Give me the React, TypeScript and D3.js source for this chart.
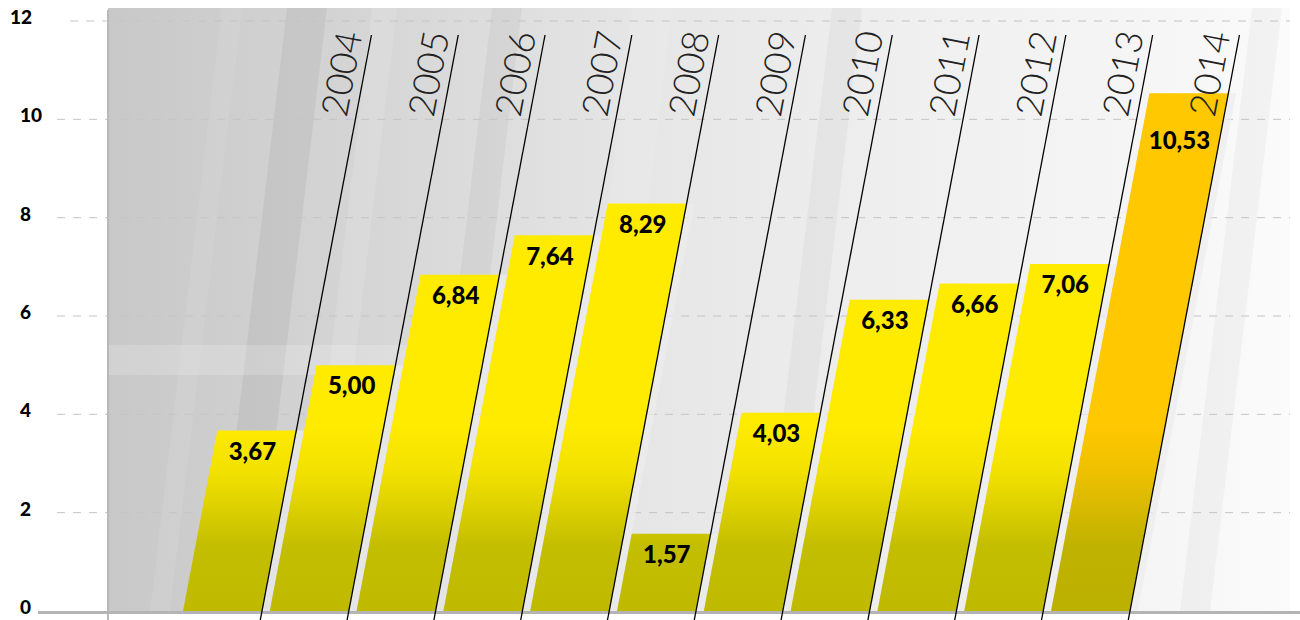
import React from "react";
import * as d3 from "d3";

const years = ["2004", "2005", "2006", "2007", "2008", "2009", "2010", "2011", "2012", "2013", "2014"];
const values = [3.67, 5.0, 6.84, 7.64, 8.29, 1.57, 4.03, 6.33, 6.66, 7.06, 10.53];
const highlightYear = "2014";
const yTicks = [0, 2, 4, 6, 8, 10, 12];

const W = 1300;
const H = 620;
const SLANT = 0.19;

const locale = d3.formatLocale({ decimal: ",", thousands: ".", grouping: [3], currency: ["", ""] });
const fmt = locale.format(".2f");

export default function App() {
  const y = d3.scaleLinear().domain([0, 12]).range([611, 21]);
  const x = d3.scaleBand<string>().domain(years).range([183, 1130]).paddingInner(0.09).paddingOuter(0);
  const w = x.bandwidth();
  const step = x.step();
  const base = y(0);
  const lineTop = 35;
  const lineBottom = 620;

  const para = (x0: number, width: number, yt: number) => {
    const s = (base - yt) * SLANT;
    return `M${x0},${base} L${x0 + width},${base} L${x0 + width + s},${yt} L${x0 + s},${yt} Z`;
  };

  // background texture streaks (decorative)
  const streaks = [
    { x0: 215, w0: 40, o: 0.05, c: "#000" },
    { x0: 300, w0: 25, o: 0.12, c: "#fff" },
    { x0: 150, w0: 20, o: 0.08, c: "#fff" },
    { x0: 420, w0: 30, o: 0.04, c: "#000" },
    { x0: 560, w0: 40, o: 0.1, c: "#fff" },
    { x0: 760, w0: 30, o: 0.03, c: "#000" },
    { x0: 1180, w0: 30, o: 0.03, c: "#000" },
  ];

  return (
    <div style={{ position: "fixed", left: 0, top: 0 }}>
      <svg width={W} height={H} style={{ display: "block", background: "#fff" }}>
        <defs>
          <linearGradient id="bg" x1="0" y1="0" x2="1" y2="0">
            <stop offset="0" stopColor="#c8c8c8" />
            <stop offset="0.2" stopColor="#d4d4d4" />
            <stop offset="0.45" stopColor="#e6e6e6" />
            <stop offset="0.7" stopColor="#f0f0f0" />
            <stop offset="0.9" stopColor="#f6f6f6" />
            <stop offset="1" stopColor="#fbfbfb" />
          </linearGradient>
          <linearGradient id="gYellow" gradientUnits="userSpaceOnUse" x1="0" y1="425" x2="0" y2={base}>
            <stop offset="0" stopColor="#ffeb00" />
            <stop offset="0.25" stopColor="#f2e100" />
            <stop offset="0.48" stopColor="#d8cd00" />
            <stop offset="0.65" stopColor="#c4be00" />
            <stop offset="1" stopColor="#bfba00" />
          </linearGradient>
          <linearGradient id="gOrange" gradientUnits="userSpaceOnUse" x1="0" y1="425" x2="0" y2={base}>
            <stop offset="0" stopColor="#ffc800" />
            <stop offset="0.25" stopColor="#eec000" />
            <stop offset="0.48" stopColor="#d4b800" />
            <stop offset="0.65" stopColor="#c0b200" />
            <stop offset="1" stopColor="#bcb000" />
          </linearGradient>
          <clipPath id="plotClip">
            <rect x={108} y={8} width={1182} height={base - 8} />
          </clipPath>
        </defs>

        {/* background */}
        <rect x={108} y={8} width={1182} height={base - 8} fill="url(#bg)" />
        <g clipPath="url(#plotClip)">
          {streaks.map((s, i) => (
            <path
              key={i}
              d={`M${s.x0},${base} L${s.x0 + s.w0},${base} L${s.x0 + s.w0 + 600 * 0.12},8 L${s.x0 + 600 * 0.12},8 Z`}
              fill={s.c}
              opacity={s.o}
            />
          ))}
          <rect x={108} y={345} width={360} height={30} fill="#fff" opacity={0.18} />
        </g>

        {/* gridlines */}
        {yTicks.filter((t) => t > 0).map((t) => (
          <line
            key={t}
            x1={t === 12 ? 70 : 57}
            x2={1290}
            y1={y(t)}
            y2={y(t)}
            stroke="#c4c4c4"
            strokeWidth={1}
            strokeDasharray="8,8"
          />
        ))}

        {/* y axis */}
        <line x1={108} x2={108} y1={10} y2={620} stroke="#b8b8b8" strokeWidth={2} />
        {yTicks.map((t) => (
          <text
            key={t}
            x={t === 12 ? 10 : 20}
            y={y(t) - 2}
            dominantBaseline="middle"
            fontFamily="Lato, sans-serif"
            fontWeight={900}
            fontSize={19}
            fill="#000"
          >
            {t}
          </text>
        ))}

        {/* light gaps between bars */}
        {years.map((yr, i) => (
          <path key={"gap" + yr} d={para((x(yr) as number) + w, step - w, y(values[i]))} fill="#ececec" opacity={0.7} />
        ))}

        {/* bars */}
        {years.map((yr, i) => (
          <path
            key={"bar" + yr}
            d={para(x(yr) as number, w, y(values[i]))}
            fill={yr === highlightYear ? "url(#gOrange)" : "url(#gYellow)"}
          />
        ))}

        {/* baseline */}
        <line x1={38} x2={1300} y1={base + 1.5} y2={base + 1.5} stroke="#b4b4b4" strokeWidth={3} />

        {/* year lines */}
        {years.map((yr) => {
          const xr = (x(yr) as number) + w;
          return (
            <line
              key={"ln" + yr}
              x1={xr + (base - lineTop) * SLANT}
              y1={lineTop}
              x2={xr - (lineBottom - base) * SLANT}
              y2={lineBottom}
              stroke="#000"
              strokeWidth={1.3}
            />
          );
        })}

        {/* year labels */}
        {years.map((yr) => {
          const xr = (x(yr) as number) + w;
          const ty = 34;
          const tx = xr + (base - ty) * SLANT - 9;
          const ang = (-Math.atan2(1, SLANT) * 180) / Math.PI;
          return (
            <text
              key={"yl" + yr}
              transform={`translate(${tx},${ty}) rotate(${ang})`}
              textAnchor="end"
              fontFamily="Lato, 'Open Sans', sans-serif"
              fontWeight={300}
              fontSize={37}
              fill="#222"
            >
              {yr}
            </text>
          );
        })}

        {/* value labels */}
        {years.map((yr, i) => {
          const yt = y(values[i]);
          const ly = Math.max(yt + 23, 143);
          const cx = (x(yr) as number) + w / 2 + (base - ly) * SLANT;
          return (
            <text
              key={"vl" + yr}
              x={cx}
              y={ly}
              textAnchor="middle"
              dominantBaseline="middle"
              fontFamily="Lato, sans-serif"
              fontWeight={900}
              fontSize={24}
              fill="#000"
            >
              {fmt(values[i])}
            </text>
          );
        })}
      </svg>
    </div>
  );
}
